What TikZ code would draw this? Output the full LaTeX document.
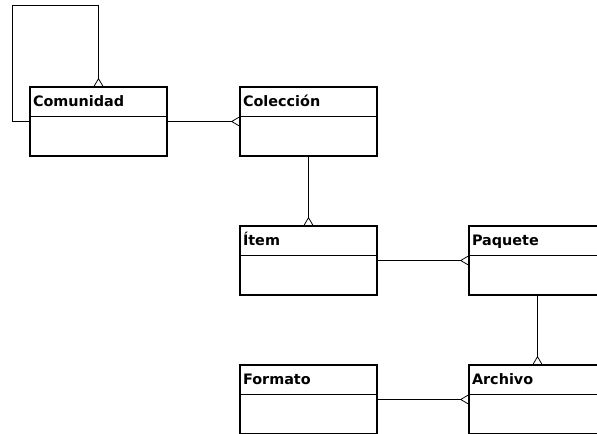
\documentclass[tikz,border=0pt]{standalone}
\usepackage{fontspec}
\newfontfamily\classfont{DejaVu Sans}
\usetikzlibrary{arrows.meta}

\tikzset{
    classbox/.style={
        draw,
        line width=0.8pt,
        minimum width=102.75pt,
        minimum height=51.75pt,
        inner sep=0pt
    },
    classname/.style={
        draw,
        line width=0.8pt,
        anchor=north west,
        text width=98.25pt,
        inner xsep=2.25pt,
        inner ysep=0pt,
        minimum height=22.1pt,
        text height=9pt,
        text depth=1.5pt,
        align=left,
        font=\classfont\bfseries\fontsize{10.8}{12}\selectfont
    },
    many/.style={
        line width=0.75pt,
        -{Straight Barb[reversed,length=5.5pt,width=6.5pt,line width=0.6pt]}
    }
}

\newcommand{\umlclass}[3]{
    \node[classbox] (#1) at (#2) {};
    \node[classname] (#1-name) at (#1.north west) {#3};
}

\begin{document}
\begin{tikzpicture}[
    x=0.75pt,
    y=-0.75pt
]
    \useasboundingbox (0,0) rectangle (597,434);
    \clip (0,0) rectangle (597,434);
    \umlclass{comunidad}{98.5,121.5}{Comunidad}
    \umlclass{coleccion}{308.5,121.5}{Colección}
    \umlclass{item}{308.5,260.5}{Ítem}
    \umlclass{paquete}{537.5,260.5}{Paquete}
    \umlclass{formato}{308.5,399.5}{Formato}
    \umlclass{archivo}{537.5,399.5}{Archivo}
    \coordinate (loop) at (12.5,5.5);
    \draw[many] (comunidad.west) -| (loop) -| (comunidad.north);
    \draw[many] (comunidad) -- (coleccion.west);
    \draw[many] (coleccion) -- (item.north);
    \draw[many] (item) -- (paquete.west);
    \draw[many] (paquete) -- (archivo.north);
    \draw[many] (formato) -- (archivo.west);
\end{tikzpicture}
\end{document}
